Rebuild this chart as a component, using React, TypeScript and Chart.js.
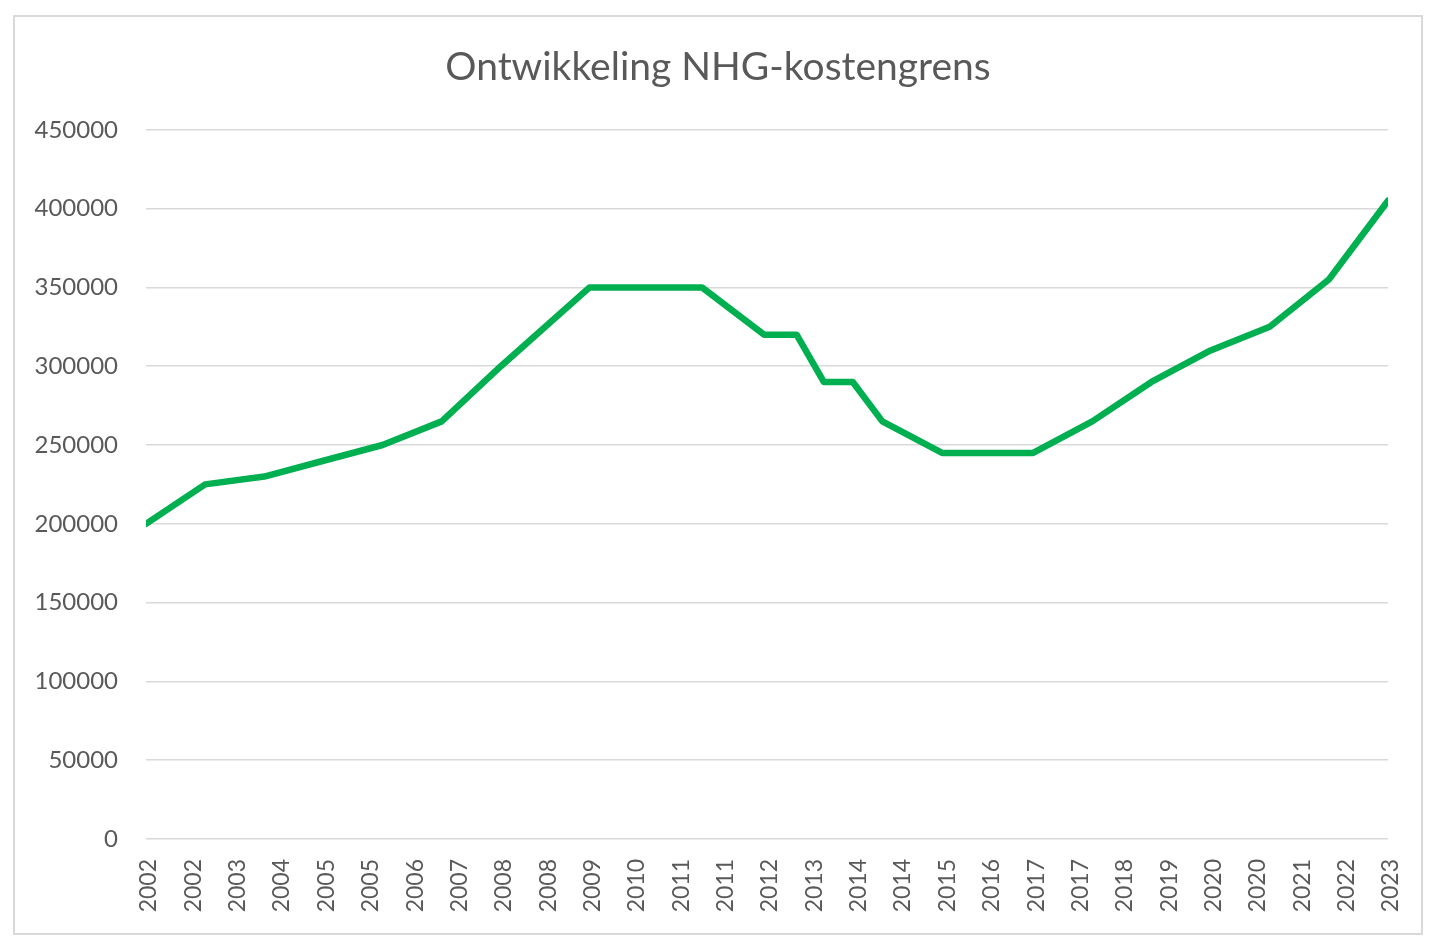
import { useEffect, useRef } from 'react'
import { Chart, registerables } from 'chart.js'
Chart.register(...registerables)

// x = (fractional) year, y = NHG-kostengrens in euro
const years = [2002, 2003, 2004, 2005, 2006, 2007, 2008, 2009.5, 2010.5, 2011.4, 2012.45, 2013, 2013.46, 2013.95, 2014.45, 2015.46, 2016, 2017, 2018, 2019, 2020, 2021, 2022, 2023]
const limits = [200000, 225000, 230000, 240000, 250000, 265000, 300000, 350000, 350000, 350000, 320000, 320000, 290000, 290000, 265000, 245000, 245000, 245000, 265000, 290000, 310000, 325000, 355000, 405000]

const tickLabels = ['2002', '2002', '2003', '2004', '2005', '2005', '2006', '2007', '2008', '2008', '2009', '2010', '2011', '2011', '2012', '2013', '2014', '2014', '2015', '2016', '2017', '2017', '2018', '2019', '2020', '2020', '2021', '2022', '2023']

const title = 'Ontwikkeling NHG-kostengrens'

export default function App() {
  const ref = useRef<HTMLCanvasElement | null>(null)
  useEffect(() => {
    if (!ref.current) return
    const ctx = ref.current.getContext('2d')!
    const ink = '#595959'
    const grid = '#d9d9d9'
    const font = 'Lato'
    const chart = new Chart(ctx, {
      type: 'line',
      data: {
        datasets: [{
          label: 'NHG-kostengrens',
          data: years.map((x, i) => ({ x, y: limits[i] })),
          borderColor: '#00b050',
          borderWidth: 6.5,
          pointRadius: 0,
          borderJoinStyle: 'round',
          borderCapStyle: 'round',
          tension: 0
        }]
      },
      options: {
        animation: false,
        responsive: false,
        // title is centred in the bordered box, so keep side paddings close
        layout: { padding: { left: 14, right: 18, top: 16, bottom: 14 } },
        plugins: {
          legend: { display: false },
          tooltip: { enabled: false },
          title: {
            display: true,
            text: title,
            color: ink,
            font: { family: font, size: 39, weight: 'normal' },
            padding: { top: 28, bottom: 39 }
          }
        },
        scales: {
          x: {
            type: 'linear',
            min: 2002,
            max: 2023,
            grid: { display: false, drawTicks: false },
            border: { display: false },
            afterFit: (s: any) => { s.height = 93 },
            ticks: {
              stepSize: 0.75,
              autoSkip: false,
              minRotation: 90,
              maxRotation: 90,
              padding: 20,
              labelOffset: 3,
              color: ink,
              font: { family: font, size: 23 },
              callback: (_v: any, i: number) => tickLabels[i]
            }
          },
          y: {
            min: 0,
            max: 450000,
            grid: { color: grid, lineWidth: 1.5, drawTicks: false },
            border: { display: false },
            afterFit: (s: any) => { s.width = 132 },
            ticks: {
              stepSize: 50000,
              padding: 28,
              color: ink,
              font: { family: font, size: 24 },
              callback: (v: any) => String(v)
            }
          },
          // empty spacer on the right
          spacer: {
            type: 'linear',
            axis: 'y',
            position: 'right',
            grid: { display: false, drawTicks: false },
            border: { display: false },
            ticks: { display: false },
            afterFit: (s: any) => { s.width = 34 }
          }
        }
      }
    })
    return () => chart.destroy()
  }, [])
  return (
    <div style={{ position: 'fixed', left: 0, top: 0, width: 1440, height: 946, background: '#fff' }}>
      <div style={{ position: 'absolute', left: 13, top: 15, width: 1410, height: 920, boxSizing: 'border-box', border: '2px solid #d9d9d9' }} />
      <canvas ref={ref} width={1440} height={946} style={{ position: 'absolute', left: 0, top: 0 }} />
    </div>
  )
}
